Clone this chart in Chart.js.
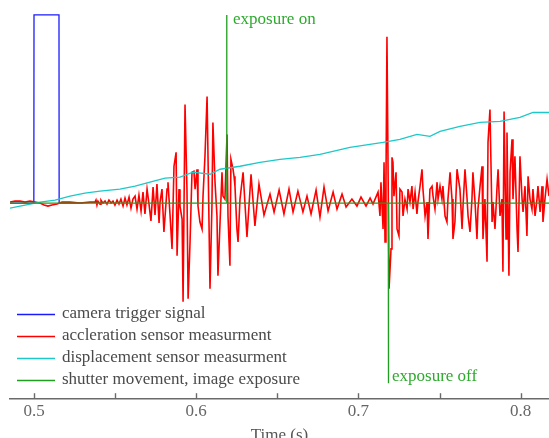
<!DOCTYPE html>
<html>
<head>
<meta charset="utf-8">
<script src="https://cdn.jsdelivr.net/npm/chart.js@4.4.1/dist/chart.umd.min.js"></script>
<style>
html, body { margin: 0; padding: 0; background: #fff; overflow: hidden; }
#wrap { position: relative; width: 549px; height: 446px; }
</style>
</head>
<body>
<div id="wrap"><canvas id="chart"></canvas></div>
<script>
const X_MIN = 0.4852;
const X_MAX = 0.8175;
const Y_MIN = -19.6;
const Y_MAX = 20.4;
const TICK_STEP = 0.05;

const seriesLabels = [
 'camera trigger signal',
 'accleration sensor measurment',
 'displacement sensor measurment',
 'shutter movement, image exposure',
];
const seriesColors = ['#1a1aff', '#ff0000', '#1ec8c8', '#1f9e1f'];

// [time (s), value]
const triggerPoints = [
 [0.4852, 0], [0.4999, 0], [0.5000, 18.9], [0.5154, 18.9], [0.5155, 0], [0.5300, 0],
];

const accelPoints = [
 [0.4852, 0.1], [0.4883, 0.2], [0.4914, 0.2], [0.4945, 0.1], [0.4975, 0.2], [0.5006, 0.1],
 [0.5037, 0], [0.5062, -0.2], [0.5086, -0.3], [0.5111, -0.2], [0.5142, -0.1], [0.5173, 0.1],
 [0.5222, 0.1], [0.5284, 0], [0.5345, 0.1], [0.5376, 0.1],
 [0.5382, 0.3], [0.5388, -0.2], [0.5394, 0.2], [0.5407, -0.1], [0.5413, 0.3], [0.5425, 0],
 [0.5438, 0.2], [0.5450, -0.1], [0.5462, 0.3], [0.5475, 0], [0.5487, 0.2], [0.5499, -0.2],
 [0.5512, 0.3], [0.5524, -0.1], [0.5536, 0.4], [0.5549, -0.3], [0.5561, 0.5], [0.5573, -0.2],
 [0.5586, 0.6], [0.5598, -0.5], [0.5610, 0.4], [0.5623, 0.7], [0.5635, -0.6], [0.5647, 0.8],
 [0.5660, -0.8], [0.5672, 1.1], [0.5684, -1.1], [0.5697, 1.4], [0.5709, -0.1], [0.5721, -1.8],
 [0.5734, 1.6], [0.5746, -1.2], [0.5758, 1.9], [0.5771, -2.0],
 [0.5777, 0.1], [0.5789, 1.4], [0.5801, -2.9], [0.5820, 1.4], [0.5826, 2.1], [0.5839, -1.3],
 [0.5851, -4.6], [0.5863, 3.7], [0.5876, 5.1], [0.5882, -5.3], [0.5894, 1.4], [0.5900, -0.3],
 [0.5913, -1.6], [0.5919, -9.9], [0.5931, 9.9], [0.5943, 1.4], [0.5950, -9.6], [0.5962, -3.9],
 [0.5974, 3.1], [0.5986, 3.2], [0.5993, 1.4], [0.6005, 3.4], [0.6011, -0.3], [0.6023, -1.9],
 [0.6036, -2.6], [0.6042, 0.7], [0.6054, 4.7], [0.6067, 10.7], [0.6073, 4.4], [0.6085, -8.6],
 [0.6097, -0.3], [0.6103, 8.1], [0.6116, 2.1], [0.6128, -1.3], [0.6134, -7.3], [0.6147, -1.9],
 [0.6159, 3.1], [0.6165, 0.7], [0.6177, 0.4], [0.6190, 6.9], [0.6196, -1.3], [0.6208, -6.3],
 [0.6214, 4.4], [0.6227, 3.4], [0.6233, 2.7], [0.6239, 1.7], [0.6251, -2.6], [0.6258, -3.9],
 [0.6270, 0.4], [0.6289, 3.1], [0.6313, -3.4], [0.6338, 2.9], [0.6362, -2.3], [0.6387, 1.9],
 [0.6418, -1.2], [0.6455, 0.9], [0.6480, -0.9], [0.6511, 1.3], [0.6541, -1.1], [0.6572, 1.4],
 [0.6597, -0.9], [0.6627, 1.2], [0.6658, -0.9], [0.6683, 0.7], [0.6708, -1.1], [0.6739, 1.3],
 [0.6763, -1.4], [0.6788, 1.6], [0.6813, -0.8], [0.6844, 1.1], [0.6868, -0.6], [0.6899, 0.9],
 [0.6924, -0.4], [0.6960, 0.4], [0.6991, -0.3], [0.7016, 0.6], [0.7047, -0.3], [0.7072, 0.5],
 [0.7090, -0.1],
 [0.7121, 1.1], [0.7133, -1.3], [0.7139, 2.1], [0.7152, -2.6], [0.7158, 4.1], [0.7164, -3.9],
 [0.7170, 2.1], [0.7176, 16.7], [0.7189, -8.6], [0.7201, -4.6], [0.7207, 4.6], [0.7213, 4.1],
 [0.7219, 0.7], [0.7232, 3.1], [0.7238, -2.6], [0.7250, -3.3], [0.7256, 1.4], [0.7269, 1.1],
 [0.7275, -1.3], [0.7287, 0.4], [0.7300, -0.6], [0.7306, 1.4], [0.7318, 0.1], [0.7330, 1.7],
 [0.7337, -0.6], [0.7349, 1.1], [0.7361, -1.1], [0.7367, 0.1], [0.7380, 1.7], [0.7392, 3.4],
 [0.7398, 1.4], [0.7411, -1.3], [0.7423, 0.1], [0.7429, -3.6], [0.7441, 1.4], [0.7454, 1.7],
 [0.7460, 0.7], [0.7472, -0.6], [0.7485, 2.1], [0.7491, 0.4],
 [0.7503, 1.7], [0.7515, 0.4], [0.7521, 1.7], [0.7534, -1.3], [0.7546, -1.9], [0.7552, 0.4],
 [0.7565, 3.1], [0.7577, 0.4], [0.7583, -3.6], [0.7595, -1.9], [0.7608, 3.4], [0.7614, 2.7],
 [0.7626, 1.4], [0.7639, -2.6], [0.7645, -0.3], [0.7657, 3.4], [0.7670, 0.4], [0.7676, -1.3],
 [0.7688, -2.9], [0.7700, 0.4], [0.7706, 3.1], [0.7719, 0.1], [0.7731, -3.6], [0.7737, -0.6],
 [0.7750, 1.7], [0.7762, 3.7], [0.7768, -3.6], [0.7780, 0.4], [0.7793, -5.9], [0.7799, 6.1],
 [0.7811, 9.4], [0.7824, -1.9], [0.7830, 0.1], [0.7842, -2.6], [0.7854, 1.4], [0.7861, 3.4],
 [0.7873, -1.3], [0.7885, 0.4], [0.7891, -6.9], [0.7898, 9.2], [0.7910, -3.6], [0.7916, 7.1],
 [0.7928, -7.3], [0.7935, 3.1], [0.7947, 6.4], [0.7953, 0.4], [0.7965, 4.7], [0.7978, -2.6],
 [0.7984, -4.9], [0.7996, 4.7], [0.8009, 0.4], [0.8015, -0.9], [0.8027, 1.7], [0.8039, -3.3],
 [0.8046, 2.7], [0.8058, 0.4], [0.8070, -0.6], [0.8076, 1.4], [0.8089, -1.3], [0.8101, 0.4],
 [0.8107, 1.7], [0.8120, -0.9], [0.8132, 1.7], [0.8138, -1.9], [0.8150, 0.4], [0.8163, 2.4],
 [0.8175, 0.7],
];

const displacementPoints = [
 [0.4852, -0.5], [0.4945, -0.2], [0.5037, 0.1], [0.5130, 0.3], [0.5222, 0.7], [0.5314, 1.0],
 [0.5407, 1.2], [0.5530, 1.4], [0.5623, 1.7], [0.5715, 2.1], [0.5808, 2.5], [0.5900, 2.6],
 [0.5980, 3.1], [0.6085, 2.9], [0.6147, 3.4], [0.6270, 3.7], [0.6393, 4.1], [0.6517, 4.4],
 [0.6640, 4.6], [0.6763, 4.9], [0.6948, 5.6], [0.7152, 6.1], [0.7256, 6.4], [0.7361, 6.9],
 [0.7441, 6.7], [0.7503, 7.2], [0.7626, 7.7], [0.7750, 8.1], [0.7873, 8.2], [0.7996, 8.6],
 [0.8076, 9.1], [0.8175, 9.1],
];

const shutterPoints = [
 [0.4852, 0], [0.6187, 0], [0.6188, 18.9], [0.6189, 0],
 [0.7184, 0], [0.7185, -18.1], [0.7186, 0], [0.8175, 0],
];

const annotations = [
 { text: 'exposure on', x: 0.6227, y: 18.4 },
 { text: 'exposure off', x: 0.7207, y: -17.4 },
];

const FONT = "'Liberation Serif', 'Times New Roman', serif";
const toXY = pts => pts.map(([x, y]) => ({ x, y }));
const isMultiple = (v, step) => Math.abs(v / step - Math.round(v / step)) < 1e-6;

const insideTicks = {
 id: 'insideTicks',
 afterDraw(chart) {
 const { ctx, scales: { x }, chartArea } = chart;
 ctx.save();
 ctx.strokeStyle = '#6a6a6a';
 ctx.lineWidth = 1.4;
 x.ticks.forEach(t => {
 if (!isMultiple(t.value, TICK_STEP)) return;
 const px = Math.round(x.getPixelForValue(t.value)) + 0.5;
 ctx.beginPath();
 ctx.moveTo(px, chartArea.bottom);
 ctx.lineTo(px, chartArea.bottom - 5);
 ctx.stroke();
 });
 ctx.restore();
 },
};

const textOverlay = {
 id: 'textOverlay',
 afterDraw(chart) {
 const { ctx, scales: { x, y } } = chart;
 ctx.save();
 ctx.font = `17px ${FONT}`;
 ctx.textBaseline = 'middle';
 ctx.textAlign = 'left';
 ctx.fillStyle = '#2eaa2e';
 annotations.forEach(a => ctx.fillText(a.text, x.getPixelForValue(a.x), y.getPixelForValue(a.y)));

 chart.data.datasets.forEach((ds, i) => {
 const ly = 314 + i * 22;
 ctx.strokeStyle = ds.borderColor;
 ctx.lineWidth = 1.3;
 ctx.beginPath();
 ctx.moveTo(17, ly + 0.5);
 ctx.lineTo(55, ly + 0.5);
 ctx.stroke();
 ctx.fillStyle = '#4a4a4a';
 ctx.fillText(ds.label, 62, ly);
 });
 ctx.restore();
 },
};

const series = [triggerPoints, accelPoints, displacementPoints, shutterPoints];
const drawOrder = [3, 2, 1, 0];

new Chart(document.getElementById('chart'), {
 type: 'line',
 data: {
 datasets: series.map((pts, i) => ({
 label: seriesLabels[i],
 data: toXY(pts),
 borderColor: seriesColors[i],
 borderWidth: i === 1 ? 1.6 : 1.3,
 pointRadius: 0,
 tension: 0,
 fill: false,
 order: drawOrder[i],
 })),
 },
 options: {
 responsive: true,
 maintainAspectRatio: false,
 animation: false,
 parsing: false,
 layout: { padding: { left: 10, right: 0, top: 0, bottom: 0 } },
 plugins: { legend: { display: false }, tooltip: { enabled: false } },
 scales: {
 x: {
 type: 'linear',
 min: X_MIN,
 max: X_MAX,
 grid: { display: false, drawTicks: false },
 border: { display: true, color: '#6a6a6a', width: 1.4 },
 ticks: {
 stepSize: TICK_STEP,
 includeBounds: false,
 autoSkip: false,
 maxRotation: 0,
 padding: 3,
 color: '#666',
 font: { family: FONT, size: 17 },
 callback: v => isMultiple(v, 0.1) ? v.toFixed(1) : '',
 },
 title: {
 display: true,
 text: 'Time (s)',
 color: '#555',
 font: { family: FONT, size: 17 },
 padding: { top: 1, bottom: 0 },
 },
 },
 y: { display: false, min: Y_MIN, max: Y_MAX },
 },
 },
 plugins: [insideTicks, textOverlay],
});
</script>
</body>
</html>
